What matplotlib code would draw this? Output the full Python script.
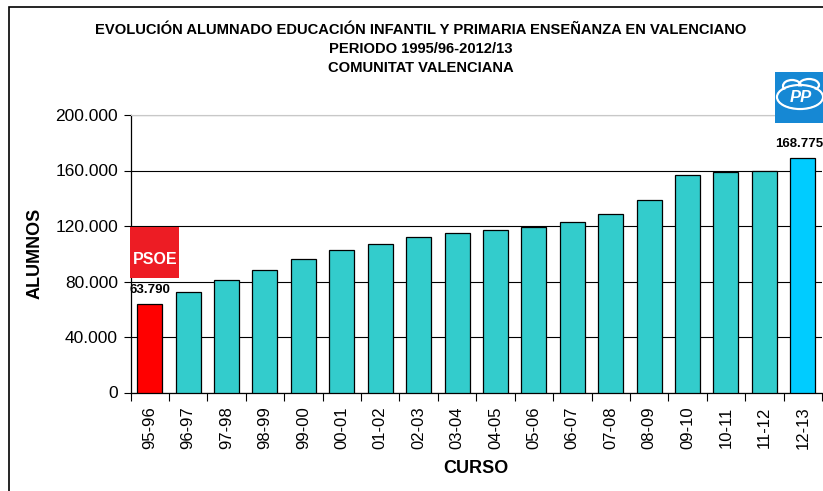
import matplotlib
matplotlib.use("Agg")
import matplotlib.pyplot as plt
from matplotlib.patches import Rectangle, Ellipse
from matplotlib.ticker import FuncFormatter, MultipleLocator
import numpy as np

plt.rcParams['font.family'] = ['Liberation Sans', 'DejaVu Sans']

# Datos
cursos = ["95-96", "96-97", "97-98", "98-99", "99-00", "00-01", "01-02", "02-03", "03-04",
          "04-05", "05-06", "06-07", "07-08", "08-09", "09-10", "10-11", "11-12", "12-13"]
alumnos = [63790, 72400, 81000, 88200, 96200, 102400, 107000, 112200, 114600,
           116800, 119400, 122800, 128500, 138600, 156600, 158700, 159700, 168775]
colores = ["#FF0000"] + ["#33CCCC"] * 16 + ["#00CCFF"]
etiquetas = {0: "63.790", 17: "168.775"}

W, H = 823, 491
fig = plt.figure(figsize=(W / 100, H / 100), dpi=100)

def fx(px):
    return px / W

def fy(py):
    return 1 - py / H

# marco exterior
fig.patches.append(Rectangle((fx(9), fy(H + 5)), 1.2, fy(7) - fy(H + 5), transform=fig.transFigure,
                             fill=False, edgecolor="black", linewidth=1.2))

titulo = ["EVOLUCIÓN ALUMNADO EDUCACIÓN INFANTIL Y PRIMARIA ENSEÑANZA EN VALENCIANO",
          "PERIODO 1995/96-2012/13",
          "COMUNITAT VALENCIANA"]
for txt, py in zip(titulo, [30, 49, 68]):
    fig.text(fx(421), fy(py), txt, ha="center", va="center", fontsize=10.6, fontweight="bold")

ax = fig.add_axes([fx(130.5), fy(392.5), fx(822) - fx(130.5), fy(115) - fy(392.5)])
x = np.arange(len(cursos))
ax.bar(x, alumnos, width=0.65, color=colores, edgecolor="black", linewidth=0.9, zorder=3)

ax.set_xlim(-0.5, len(cursos) - 0.5)
ax.set_ylim(0, 200000)
ax.yaxis.set_major_locator(MultipleLocator(40000))
ax.yaxis.set_major_formatter(FuncFormatter(lambda v, p: f"{v:,.0f}".replace(",", ".")))
ax.grid(axis="y", color="black", linewidth=0.8, zorder=0)

ax.set_xticks(x)
ax.set_xticklabels(cursos, rotation=90)
ax.set_xticks(np.arange(len(cursos) + 1) - 0.5, minor=True)
ax.tick_params(axis="x", which="major", length=0, pad=10, labelsize=12)
ax.tick_params(axis="x", which="minor", length=6, width=0.8, direction="out")
ax.tick_params(axis="y", length=5, width=0.8, labelsize=12.5, pad=4)

ax.spines["right"].set_visible(False)
ax.spines["top"].set_color("#c8c8c8")
ax.spines["left"].set_linewidth(0.9)
ax.spines["bottom"].set_linewidth(0.9)

ax.set_xlabel("CURSO", fontsize=13, fontweight="bold", labelpad=8)
ax.set_ylabel("ALUMNOS", fontsize=13, fontweight="bold", labelpad=8.5)

desplaz = {0: 0, 17: -2.5}
for i, txt in etiquetas.items():
    ax.annotate(txt, (x[i], alumnos[i]), xytext=(desplaz[i], 6), textcoords="offset points",
                ha="center", va="bottom", fontsize=9.5, fontweight="bold", annotation_clip=False)

# logo PSOE
fig.patches.append(Rectangle((fx(130), fy(278)), fx(179) - fx(130), fy(227) - fy(278),
                             transform=fig.transFigure, facecolor="#ED1C24", edgecolor="none", zorder=5))
fig.text(fx(155), fy(260), "PSOE", ha="center", va="center", color="white", fontsize=11.5,
         fontweight="bold", zorder=6)

# logo PP
fig.patches.append(Rectangle((fx(775), fy(123)), fx(830) - fx(775), fy(72) - fy(123),
                             transform=fig.transFigure, facecolor="#1688D4", edgecolor="none", zorder=5))
for cx, cy, w, h in [(800, 97, 46, 24), (792, 86, 18, 12), (809, 85, 20, 12)]:
    fig.patches.append(Ellipse((fx(cx), fy(cy)), fx(w), h / H, transform=fig.transFigure,
                               facecolor="none", edgecolor="white", linewidth=1.6, zorder=6))
fig.patches.append(Ellipse((fx(800), fy(97)), fx(43), 21 / H, transform=fig.transFigure,
                           facecolor="#1688D4", edgecolor="none", zorder=7))
fig.text(fx(801), fy(97), "PP", ha="center", va="center", color="white", fontsize=12,
         fontweight="bold", style="italic", zorder=8)

fig.savefig("out.png", dpi=100)
